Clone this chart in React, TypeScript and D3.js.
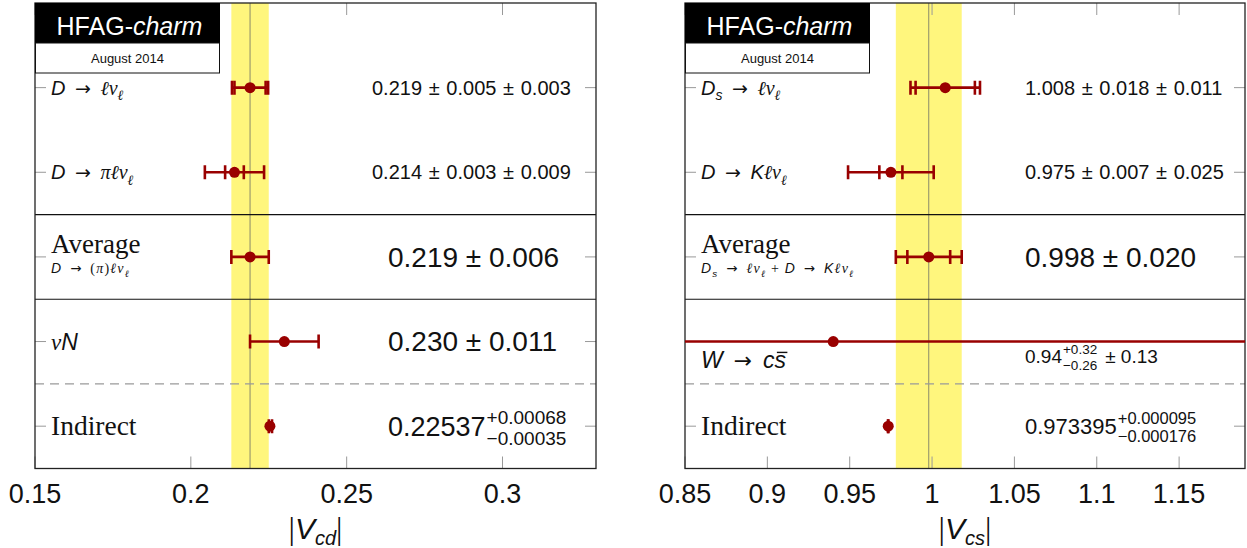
import React, { useEffect, useRef } from "react";
import * as d3 from "d3";

const W = 1247;
const H = 548;
const SANS = "'Liberation Sans', Arial, sans-serif";
const SERIF = "'Liberation Serif', 'Times New Roman', serif";
const ARROWF = "'DejaVu Sans', sans-serif";
const DARK = "#990000";
const BAND = "#fff67d";

// ---------- |Vcd| panel data ----------
const vcdRows = ["D → ℓνℓ", "D → πℓνℓ", "Average", "νN", "Indirect"];
const vcdValue = [0.219, 0.214, 0.219, 0.23, 0.22537];
const vcdInnerLo: (number | null)[] = [0.005, 0.003, null, null, null];
const vcdInnerHi: (number | null)[] = [0.005, 0.003, null, null, null];
const vcdOuterLo = [0.0058, 0.0095, 0.006, 0.011, 0.00035];
const vcdOuterHi = [0.0058, 0.0095, 0.006, 0.011, 0.00068];
const vcdTicks = [0.15, 0.2, 0.25, 0.3];
const vcdDomain = [0.15, 0.33];
const vcdAverage = 0.219;
const vcdAverageErr = 0.006;
const vcdMain = ["0.219 ± 0.005 ± 0.003", "0.214 ± 0.003 ± 0.009", "0.219 ± 0.006", "0.230 ± 0.011", "0.22537"];
const vcdSup = ["", "", "", "", "+0.00068"];
const vcdSub = ["", "", "", "", "−0.00035"];
const vcdTail = ["", "", "", "", ""];

// ---------- |Vcs| panel data ----------
const vcsRows = ["Ds → ℓνℓ", "D → Kℓνℓ", "Average", "W → cs̄", "Indirect"];
const vcsValue = [1.008, 0.975, 0.998, 0.94, 0.973395];
const vcsInnerLo: (number | null)[] = [0.018, 0.007, 0.013, 0.26, null];
const vcsInnerHi: (number | null)[] = [0.018, 0.007, 0.013, 0.32, null];
const vcsOuterLo = [0.0211, 0.026, 0.02, 0.291, 0.000176];
const vcsOuterHi = [0.0211, 0.026, 0.02, 0.345, 0.000095];
const vcsTicks = [0.85, 0.9, 0.95, 1.0, 1.05, 1.1, 1.15];
const vcsDomain = [0.85, 1.19];
const vcsAverage = 0.998;
const vcsAverageErr = 0.02;
const vcsMain = ["1.008 ± 0.018 ± 0.011", "0.975 ± 0.007 ± 0.025", "0.998 ± 0.020", "0.94", "0.973395"];
const vcsSup = ["", "", "", "+0.32", "+0.000095"];
const vcsSub = ["", "", "", "−0.26", "−0.000176"];
const vcsTail = ["", "", "", "± 0.13", ""];

type Seg = { t: string; serif?: boolean; it?: boolean; sub?: boolean; over?: boolean; arrow?: boolean };

const S = (t: string): Seg => ({ t, it: true });
const M = (t: string): Seg => ({ t, serif: true, it: true });
const R = (t: string): Seg => ({ t, serif: true });
const A = (t: string): Seg => ({ t, arrow: true });
const SUBM = (t: string): Seg => ({ t, serif: true, it: true, sub: true });
const SUBS = (t: string): Seg => ({ t, it: true, sub: true });
const ARR = "\u2002→\u2002";

const labelSegs: Record<string, Seg[]> = {
  "D → ℓνℓ": [S("D"), A(ARR), M("ℓν"), SUBM("ℓ")],
  "D → πℓνℓ": [S("D"), A(ARR), M("πℓν"), SUBM("ℓ")],
  "νN": [M("ν"), S("N")],
  "Ds → ℓνℓ": [S("D"), SUBS("s"), A(ARR), M("ℓν"), SUBM("ℓ")],
  "D → Kℓνℓ": [S("D"), A(ARR), S("K"), M("ℓν"), SUBM("ℓ")],
  "W → cs̄": [S("W"), A(ARR), S("c"), { t: "s", it: true, over: true }],
};
const avgSub: Record<string, Seg[]> = {
  left: [S("D"), A(ARR), R("("), M("π"), R(")"), M("ℓν"), SUBM("ℓ")],
  right: [S("D"), SUBS("s"), A(ARR), M("ℓν"), SUBM("ℓ"), R(" + "), S("D"), A(ARR), S("K"), M("ℓν"), SUBM("ℓ")],
};

function rich(g: any, x: number, y: number, segs: Seg[], size: number, spacing = 0) {
  const text = g
    .append("text")
    .attr("x", x)
    .attr("y", y)
    .attr("font-size", size)
    .attr("letter-spacing", spacing)
    .style("white-space", "pre")
    .attr("fill", "#111");
  let cur = 0;
  segs.forEach((s) => {
    const fs = s.sub ? size * 0.7 : s.arrow ? size * 0.95 : size;
    const target = s.sub ? size * 0.28 : 0;
    text
      .append("tspan")
      .attr("font-family", s.arrow ? ARROWF : s.serif ? SERIF : SANS)
      .attr("font-style", s.it ? "italic" : "normal")
      .attr("font-size", fs)
      .attr("dy", target - cur)
      .text(s.t);
    cur = target;
  });
  return text;
}

type Panel = {
  key: string;
  x0: number;
  x1: number;
  domain: number[];
  ticks: number[];
  rows: string[];
  value: number[];
  innerLo: (number | null)[];
  innerHi: (number | null)[];
  outerLo: number[];
  outerHi: number[];
  avg: number;
  avgErr: number;
  main: string[];
  sup: string[];
  sub: string[];
  tail: string[];
  valueX: number[];
  valueSize: number[];
  scriptSize: number[];
  supDy: number[];
  subDy: number[];
  valueDy: number[];
  labelDy: number[];
  title: string;
};

const TOP = 3;
const BOTTOM = 468.5;

const panels: Panel[] = [
  {
    key: "left",
    x0: 35,
    x1: 596,
    domain: vcdDomain,
    ticks: vcdTicks,
    rows: vcdRows,
    value: vcdValue,
    innerLo: vcdInnerLo,
    innerHi: vcdInnerHi,
    outerLo: vcdOuterLo,
    outerHi: vcdOuterHi,
    avg: vcdAverage,
    avgErr: vcdAverageErr,
    main: vcdMain,
    sup: vcdSup,
    sub: vcdSub,
    tail: vcdTail,
    valueX: [372, 372, 388, 388, 388],
    valueSize: [20, 20, 28, 28, 27],
    scriptSize: [0, 0, 0, 0, 19],
    supDy: [0, 0, 0, 0, -12],
    subDy: [0, 0, 0, 0, 9],
    valueDy: [0, 0, 0, 0, 0],
    labelDy: [0, 0, 0, 0, 0],
    title: "cd",
  },
  {
    key: "right",
    x0: 685,
    x1: 1245,
    domain: vcsDomain,
    ticks: vcsTicks,
    rows: vcsRows,
    value: vcsValue,
    innerLo: vcsInnerLo,
    innerHi: vcsInnerHi,
    outerLo: vcsOuterLo,
    outerHi: vcsOuterHi,
    avg: vcsAverage,
    avgErr: vcsAverageErr,
    main: vcsMain,
    sup: vcsSup,
    sub: vcsSub,
    tail: vcsTail,
    valueX: [1025, 1025, 1025, 1025, 1025],
    valueSize: [20, 20, 28, 19, 22],
    scriptSize: [0, 0, 0, 13.5, 16.5],
    supDy: [0, 0, 0, -9, -10],
    subDy: [0, 0, 0, 6.5, 8.5],
    valueDy: [0, 0, 0, 15, 0],
    labelDy: [0, 0, 0, 18, 0],
    title: "cs",
  },
];

export default function App() {
  const ref = useRef<SVGSVGElement | null>(null);

  useEffect(() => {
    const svg = d3.select(ref.current);
    svg.selectAll("*").remove();
    const y = d3.scaleLinear().domain([0, 5.5]).range([TOP, BOTTOM]);

    panels.forEach((p) => {
      const x = d3.scaleLinear().domain(p.domain).range([p.x0, p.x1]);
      const g = svg.append("g");
      const clipId = "clip-" + p.key;
      svg
        .append("clipPath")
        .attr("id", clipId)
        .append("rect")
        .attr("x", p.x0)
        .attr("y", TOP)
        .attr("width", p.x1 - p.x0)
        .attr("height", BOTTOM - TOP);

      // band and central line
      g.append("rect")
        .attr("x", x(p.avg - p.avgErr))
        .attr("y", TOP)
        .attr("width", x(p.avg + p.avgErr) - x(p.avg - p.avgErr))
        .attr("height", BOTTOM - TOP)
        .attr("fill", BAND);
      g.append("line")
        .attr("x1", x(p.avg))
        .attr("x2", x(p.avg))
        .attr("y1", TOP)
        .attr("y2", BOTTOM)
        .attr("stroke", "#8a8a6a")
        .attr("stroke-width", 1);

      // separators
      [2.5, 3.5].forEach((v) => {
        g.append("line")
          .attr("x1", p.x0)
          .attr("x2", p.x1)
          .attr("y1", y(v))
          .attr("y2", y(v))
          .attr("stroke", "#111")
          .attr("stroke-width", 1.2);
      });
      g.append("line")
        .attr("x1", p.x0)
        .attr("x2", p.x1)
        .attr("y1", y(4.5))
        .attr("y2", y(4.5))
        .attr("stroke", "#9a9a9a")
        .attr("stroke-width", 1.2)
        .attr("stroke-dasharray", "9 6");

      // x ticks (inside, top and bottom)
      p.ticks.forEach((t) => {
        g.append("line")
          .attr("x1", x(t))
          .attr("x2", x(t))
          .attr("y1", BOTTOM)
          .attr("y2", BOTTOM - 12)
          .attr("stroke", "#999")
          .attr("stroke-width", 1);
        g.append("line")
          .attr("x1", x(t))
          .attr("x2", x(t))
          .attr("y1", TOP)
          .attr("y2", TOP + 12)
          .attr("stroke", "#999")
          .attr("stroke-width", 1);
        g.append("text")
          .attr("x", x(t))
          .attr("y", 503)
          .attr("text-anchor", "middle")
          .attr("font-family", SANS)
          .attr("font-size", 27)
          .attr("fill", "#111")
          .text(String(t));
      });

      // y ticks
      p.rows.forEach((_, i) => {
        const yy = y(i + 1);
        g.append("line")
          .attr("x1", p.x0)
          .attr("x2", p.x0 + 11)
          .attr("y1", yy)
          .attr("y2", yy)
          .attr("stroke", "#999")
          .attr("stroke-width", 1);
        g.append("line")
          .attr("x1", p.x1 - 11)
          .attr("x2", p.x1)
          .attr("y1", yy)
          .attr("y2", yy)
          .attr("stroke", "#999")
          .attr("stroke-width", 1);
      });

      // frame
      g.append("rect")
        .attr("x", p.x0)
        .attr("y", TOP)
        .attr("width", p.x1 - p.x0)
        .attr("height", BOTTOM - TOP)
        .attr("fill", "none")
        .attr("stroke", "#222")
        .attr("stroke-width", 1.3);

      // row labels
      const lx = p.x0 + 16;
      p.rows.forEach((r, i) => {
        const yy = y(i + 1) + p.labelDy[i];
        if (r === "Average") {
          rich(g, lx, yy - 4, [R("Average")], 27);
          rich(g, lx, yy + 16, avgSub[p.key], 14, 1.2);
        } else if (r === "Indirect") {
          rich(g, lx, yy + 9, [R("Indirect")], 27.5);
        } else {
          const size = i === 3 ? 23 : 20;
          const t = rich(g, lx, yy + size * 0.35, labelSegs[r], size);
          const segs = labelSegs[r];
          const overIdx = segs.findIndex((s) => s.over);
          if (overIdx >= 0) {
            const node = t.node() as SVGTextElement;
            const n = node.getNumberOfChars();
            const s0 = node.getStartPositionOfChar(n - 1);
            const s1 = node.getEndPositionOfChar(n - 1);
            g.append("line")
              .attr("x1", s0.x + 2.5)
              .attr("x2", s1.x + 1.5)
              .attr("y1", yy + size * 0.35 - size * 0.66)
              .attr("y2", yy + size * 0.35 - size * 0.66)
              .attr("stroke", "#111")
              .attr("stroke-width", 1.4);
          }
        }
      });

      // value labels
      p.main.forEach((m, i) => {
        const size = p.valueSize[i];
        const base = y(i + 1) + p.valueDy[i] + size * 0.35;
        const txt = size < 21 ? m.replace(/ ± /g, "\u2004±\u2004") : m;
        const t = g
          .append("text")
          .attr("x", p.valueX[i])
          .attr("y", base)
          .attr("font-family", SANS)
          .attr("font-size", size)
          .attr("fill", "#111")
          .style("white-space", "pre")
          .text(txt);
        if (p.sup[i]) {
          const w = (t.node() as SVGTextElement).getComputedTextLength();
          const sx = p.valueX[i] + w + 1;
          const ss = p.scriptSize[i];
          const sp = g
            .append("text")
            .attr("x", sx)
            .attr("y", base + p.supDy[i])
            .attr("font-family", SANS)
            .attr("font-size", ss)
            .attr("fill", "#111")
            .text(p.sup[i]);
          const sb = g
            .append("text")
            .attr("x", sx)
            .attr("y", base + p.subDy[i])
            .attr("font-family", SANS)
            .attr("font-size", ss)
            .attr("fill", "#111")
            .text(p.sub[i]);
          if (p.tail[i]) {
            const w2 = Math.max(
              (sp.node() as SVGTextElement).getComputedTextLength(),
              (sb.node() as SVGTextElement).getComputedTextLength()
            );
            g.append("text")
              .attr("x", sx + w2 + 8)
              .attr("y", base)
              .attr("font-family", SANS)
              .attr("font-size", size)
              .attr("fill", "#111")
              .text(p.tail[i]);
          }
        }
      });

      // error bars
      const eg = svg.append("g").attr("clip-path", `url(#${clipId})`);
      p.value.forEach((v, i) => {
        const yy = y(i + 1);
        const lo = x(v - p.outerLo[i]);
        const hi = x(v + p.outerHi[i]);
        eg.append("line")
          .attr("x1", lo)
          .attr("x2", hi)
          .attr("y1", yy)
          .attr("y2", yy)
          .attr("stroke", DARK)
          .attr("stroke-width", 2.6);
        const caps = [lo, hi];
        const il = p.innerLo[i];
        const ih = p.innerHi[i];
        if (il != null) caps.push(x(v - il));
        if (ih != null) caps.push(x(v + ih));
        caps.forEach((cx) => {
          eg.append("line")
            .attr("x1", cx)
            .attr("x2", cx)
            .attr("y1", yy - 7)
            .attr("y2", yy + 7)
            .attr("stroke", DARK)
            .attr("stroke-width", 2.6);
        });
        eg.append("circle").attr("cx", x(v)).attr("cy", yy).attr("r", 5.5).attr("fill", DARK);
      });

      // HFAG box
      const bw = 185;
      g.append("rect").attr("x", p.x0).attr("y", TOP).attr("width", bw).attr("height", 40).attr("fill", "#000");
      const ht = g
        .append("text")
        .attr("x", p.x0 + bw / 2 + 2)
        .attr("y", TOP + 32)
        .attr("text-anchor", "middle")
        .attr("font-family", SANS)
        .attr("font-size", 25)
        .attr("fill", "#fff");
      ht.append("tspan").text("HFAG-");
      ht.append("tspan").attr("font-style", "italic").text("charm");
      g.append("rect")
        .attr("x", p.x0 + 0.5)
        .attr("y", TOP + 40)
        .attr("width", bw - 1)
        .attr("height", 30)
        .attr("fill", "#fff")
        .attr("stroke", "#111")
        .attr("stroke-width", 1);
      g.append("text")
        .attr("x", p.x0 + bw / 2)
        .attr("y", TOP + 60)
        .attr("text-anchor", "middle")
        .attr("font-family", SANS)
        .attr("font-size", 13)
        .attr("fill", "#111")
        .text("August 2014");

      // axis title |V_xx|
      const tt = g
        .append("text")
        .attr("x", (p.x0 + p.x1) / 2)
        .attr("y", 539)
        .attr("text-anchor", "middle")
        .attr("fill", "#111");
      tt.append("tspan").attr("font-family", SERIF).attr("font-size", 32).text("|");
      tt.append("tspan").attr("font-family", SANS).attr("font-style", "italic").attr("font-size", 30).text("V");
      tt.append("tspan")
        .attr("font-family", SANS)
        .attr("font-style", "italic")
        .attr("font-size", 20)
        .attr("dy", 6)
        .text(p.title);
      tt.append("tspan").attr("font-family", SERIF).attr("font-size", 32).attr("dy", -6).text("|");
    });
  }, []);

  return (
    <svg
      ref={ref}
      width={W}
      height={H}
      viewBox={`0 0 ${W} ${H}`}
      style={{ position: "absolute", left: 0, top: 0, background: "#fff" }}
    />
  );
}
